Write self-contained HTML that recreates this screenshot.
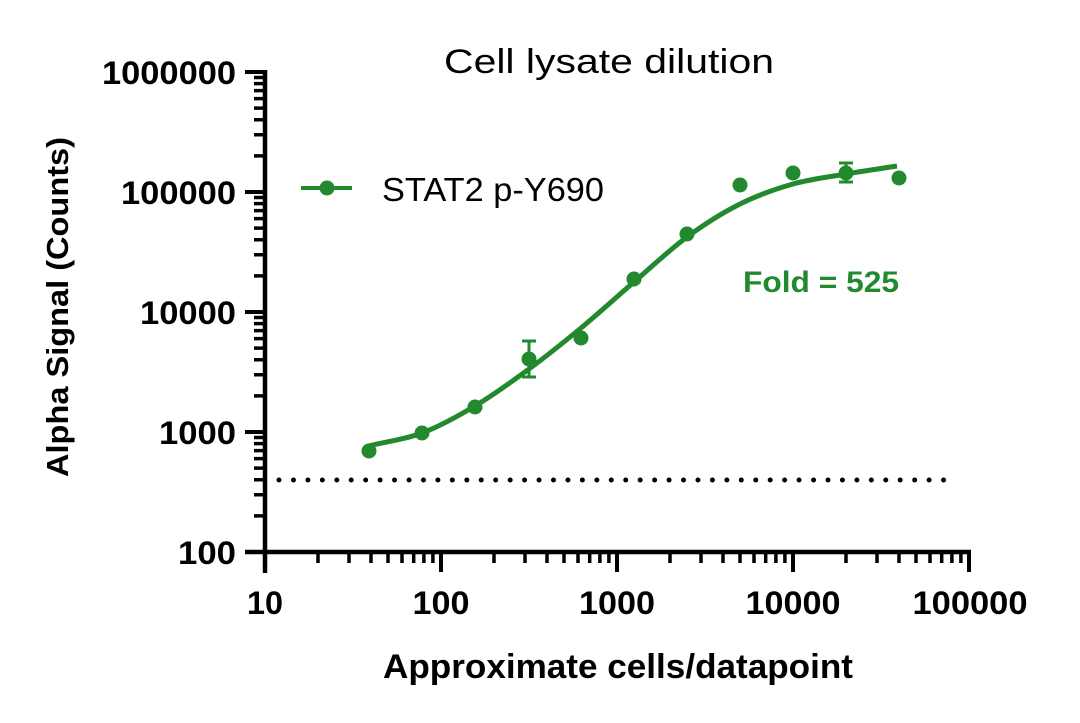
<!DOCTYPE html>
<html>
<head>
<meta charset="utf-8">
<style>
  html, body { margin: 0; padding: 0; background: #ffffff; }
  body { width: 1080px; height: 723px; overflow: hidden; }
  svg { display: block; }
  text { font-family: "Liberation Sans", "DejaVu Sans", sans-serif; }
</style>
</head>
<body>
<svg width="1080" height="723" viewBox="0 0 1080 723" xmlns="http://www.w3.org/2000/svg">
  <rect x="0" y="0" width="1080" height="723" fill="#ffffff"/>

  <!-- Title -->
  <text x="444" y="73" font-size="34" fill="#000" textLength="330" lengthAdjust="spacingAndGlyphs">Cell lysate dilution</text>

  <!-- Axes -->
  <g stroke="#000" fill="none">
    <line x1="265" y1="70" x2="265" y2="573" stroke-width="4.5"/>
    <line x1="245" y1="552" x2="971" y2="552" stroke-width="4.5"/>
    <!-- y major ticks -->
    <path stroke-width="4" d="M245 72H265 M245 192H265 M245 312H265 M245 432H265"/>
    <!-- y minor ticks -->
    <path stroke-width="3.5" d="
      M254 515.9H265 M254 494.7H265 M254 479.8H265 M254 468.1H265 M254 458.6H265 M254 450.6H265 M254 443.6H265 M254 437.5H265
      M254 395.9H265 M254 374.7H265 M254 359.8H265 M254 348.1H265 M254 338.6H265 M254 330.6H265 M254 323.6H265 M254 317.5H265
      M254 275.9H265 M254 254.7H265 M254 239.8H265 M254 228.1H265 M254 218.6H265 M254 210.6H265 M254 203.6H265 M254 197.5H265
      M254 155.9H265 M254 134.7H265 M254 119.8H265 M254 108.1H265 M254 98.6H265 M254 90.6H265 M254 83.6H265 M254 77.5H265"/>
    <!-- x major ticks -->
    <path stroke-width="4" d="M441 552V572 M617 552V572 M793 552V572 M969 552V572"/>
    <!-- x minor ticks -->
    <path stroke-width="3.5" d="
      M318 552V563 M349 552V563 M371 552V563 M388 552V563 M402 552V563 M413.7 552V563 M423.9 552V563 M432.9 552V563
      M494 552V563 M525 552V563 M547 552V563 M564 552V563 M578 552V563 M589.7 552V563 M599.9 552V563 M608.9 552V563
      M670 552V563 M701 552V563 M723 552V563 M740 552V563 M754 552V563 M765.7 552V563 M775.9 552V563 M784.9 552V563
      M846 552V563 M877 552V563 M899 552V563 M916 552V563 M930 552V563 M941.7 552V563 M951.9 552V563 M960.9 552V563"/>
  </g>

  <!-- Y tick labels -->
  <g font-size="32" font-weight="bold" fill="#000" text-anchor="end">
    <text x="236" y="84" textLength="134" lengthAdjust="spacingAndGlyphs">1000000</text>
    <text x="236" y="204" textLength="115" lengthAdjust="spacingAndGlyphs">100000</text>
    <text x="236" y="324" textLength="96" lengthAdjust="spacingAndGlyphs">10000</text>
    <text x="236" y="444" textLength="77" lengthAdjust="spacingAndGlyphs">1000</text>
    <text x="236" y="564" textLength="58" lengthAdjust="spacingAndGlyphs">100</text>
  </g>

  <!-- X tick labels -->
  <g font-size="32" font-weight="bold" fill="#000" text-anchor="middle">
    <text x="265" y="614" textLength="36" lengthAdjust="spacingAndGlyphs">10</text>
    <text x="441" y="614" textLength="57" lengthAdjust="spacingAndGlyphs">100</text>
    <text x="617" y="614" textLength="76" lengthAdjust="spacingAndGlyphs">1000</text>
    <text x="793" y="614" textLength="95" lengthAdjust="spacingAndGlyphs">10000</text>
    <text x="970" y="614" textLength="115" lengthAdjust="spacingAndGlyphs">100000</text>
  </g>

  <!-- Axis titles -->
  <text x="618" y="678" font-size="34" font-weight="bold" fill="#000" text-anchor="middle" textLength="470" lengthAdjust="spacingAndGlyphs">Approximate cells/datapoint</text>
  <text transform="translate(68,307) rotate(-90)" x="0" y="0" font-size="31" font-weight="bold" fill="#000" text-anchor="middle" textLength="340" lengthAdjust="spacingAndGlyphs">Alpha Signal (Counts)</text>

  <!-- Dotted baseline -->
  <line x1="279" y1="480" x2="958" y2="480" stroke="#000" stroke-width="5" stroke-linecap="round" stroke-dasharray="0 14.447"/>

  <!-- Fit curve -->
  <path fill="none" stroke="#23892e" stroke-width="5" stroke-linecap="butt" d="
    M368,446 C386,441.67 404.17,439.67 422,433
    C439.83,426.33 457.17,416.67 475,406
    C492.83,395.33 511.33,382 529,369
    C546.67,356 563.5,342.5 581,328
    C598.5,313.5 616.33,297.17 634,282
    C651.67,266.83 669.33,250 687,237
    C704.67,224 722.33,212.83 740,204
    C757.67,195.17 775.33,189 793,184
    C810.67,179 828.67,177 846,174
    C863.33,171 880,168.67 897,166"/>

  <!-- Error bars -->
  <g stroke="#23892e" stroke-width="3" fill="none">
    <path d="M529 341V377 M522 341H536 M522 377H536"/>
    <path d="M846 163V182 M839 163H853 M839 182H853"/>
  </g>

  <!-- Data points -->
  <g fill="#23892e">
    <circle cx="369" cy="451" r="7.5"/>
    <circle cx="422" cy="433" r="7.5"/>
    <circle cx="475" cy="407" r="7.5"/>
    <circle cx="529" cy="359" r="7.5"/>
    <circle cx="581" cy="338" r="7.5"/>
    <circle cx="634" cy="279" r="7.5"/>
    <circle cx="687" cy="234" r="7.5"/>
    <circle cx="740" cy="185" r="7.5"/>
    <circle cx="793" cy="173" r="7.5"/>
    <circle cx="846" cy="173" r="7.5"/>
    <circle cx="899" cy="178" r="7.5"/>
  </g>

  <!-- Legend -->
  <line x1="301" y1="188" x2="352" y2="188" stroke="#23892e" stroke-width="4"/>
  <circle cx="327" cy="188" r="7.5" fill="#23892e"/>
  <text x="382" y="201" font-size="33" fill="#000" textLength="222" lengthAdjust="spacingAndGlyphs">STAT2 p-Y690</text>

  <!-- Fold annotation -->
  <text x="743" y="292" font-size="30" font-weight="bold" fill="#23892e" textLength="156" lengthAdjust="spacingAndGlyphs">Fold = 525</text>
</svg>
</body>
</html>
